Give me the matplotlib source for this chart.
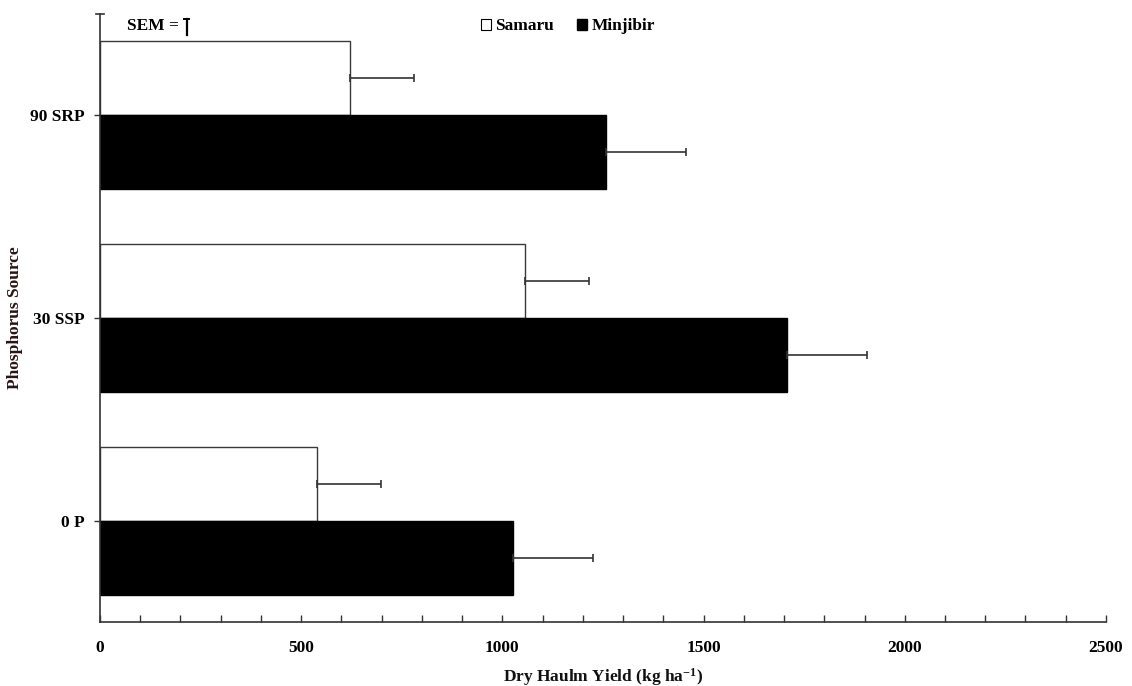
import matplotlib
matplotlib.use("Agg")
import matplotlib.pyplot as plt
from matplotlib.patches import Patch
from matplotlib.lines import Line2D
import numpy as np

plt.rcParams['font.family'] = ['Liberation Serif', 'DejaVu Serif']
plt.rcParams['font.weight'] = 'bold'
plt.rcParams['mathtext.fontset'] = 'custom'
plt.rcParams['mathtext.rm'] = 'Liberation Serif:bold'
plt.rcParams['mathtext.bf'] = 'Liberation Serif:bold'
plt.rcParams['mathtext.default'] = 'rm'

# Phosphorus sources (bottom to top)
categories = ["0 P", "30 SSP", "90 SRP"]
samaru = [539, 1056, 621]
minjibir = [1026, 1707, 1257]
samaru_sem = [159, 159, 159]
minjibir_sem = [200, 200, 200]
x_ticks = [0, 500, 1000, 1500, 2000, 2500]

fig = plt.figure(figsize=(11.32, 6.86), dpi=100)
ax = fig.add_axes([0.0883, 0.0933, 0.8887, 0.8863])

y = np.arange(len(categories))
h = 0.365

ax.barh(y + h / 2, samaru, height=h, color="white", edgecolor="#3a3a3a",
        linewidth=1.0, zorder=2)
ax.barh(y - h / 2, minjibir, height=h, color="black", edgecolor="black",
        linewidth=1.0, zorder=2)

ax.errorbar(samaru, y + h / 2, xerr=[np.zeros(len(samaru)), samaru_sem],
            fmt="none", ecolor="#333333", elinewidth=1.2, capsize=3, capthick=1.2,
            zorder=3)
ax.errorbar(minjibir, y - h / 2, xerr=[np.zeros(len(minjibir)), minjibir_sem],
            fmt="none", ecolor="#333333", elinewidth=1.2, capsize=3, capthick=1.2,
            zorder=3)

ax.set_xlim(0, 2500)
ax.set_ylim(-0.5, 2.5)

ax.set_xticks(x_ticks)
ax.set_xticks(np.arange(0, 2501, 100), minor=True)
ax.tick_params(axis="x", which="both", direction="in", length=5, width=1,
               color="#333333", labelsize=12.5, pad=13)
ax.set_yticks(y)
ax.set_yticklabels(categories)
ax.tick_params(axis="y", direction="out", length=4, width=1,
               color="#333333", labelsize=12.5, pad=7)

for lab in ax.get_xticklabels() + ax.get_yticklabels():
    lab.set_fontweight("bold")

for s in ("top", "right"):
    ax.spines[s].set_visible(False)
for s in ("left", "bottom"):
    ax.spines[s].set_color("#333333")
    ax.spines[s].set_linewidth(1.2)

# small crossing mark at the top end of the category axis
ax.add_line(Line2D([-0.004, 0.004], [1.0, 1.0], transform=ax.transAxes,
                   color="#333333", lw=1.2, clip_on=False))

ax.set_xlabel("Dry Haulm Yield (kg ha$^{-1}$)", fontsize=12.5,
              fontweight="bold", labelpad=7, color="#111111")
ax.set_ylabel("Phosphorus Source", fontsize=12.5, fontweight="bold",
              labelpad=5, color="#2a1515")

handles = [Patch(facecolor="white", edgecolor="black", linewidth=0.8),
           Patch(facecolor="black", edgecolor="black")]
ax.legend(handles, ["Samaru", "Minjibir"], loc="center",
          bbox_to_anchor=(0.465, 0.98), ncol=2, frameon=False,
          handlelength=0.6, handleheight=0.6, handletextpad=0.25,
          columnspacing=1.3, prop={"weight": "bold", "size": 12.5})

# SEM key
ax.text(0.027, 0.98, "SEM =", transform=ax.transAxes, fontsize=12.5,
        fontweight="bold", ha="left", va="center")
ax.add_line(Line2D([0.0865, 0.0865], [0.966, 0.992], transform=ax.transAxes,
                   color="black", lw=1.6, clip_on=False))
ax.add_line(Line2D([0.084, 0.089], [0.992, 0.992], transform=ax.transAxes,
                   color="black", lw=1.4, clip_on=False))

fig.savefig("out.png", dpi=100)
